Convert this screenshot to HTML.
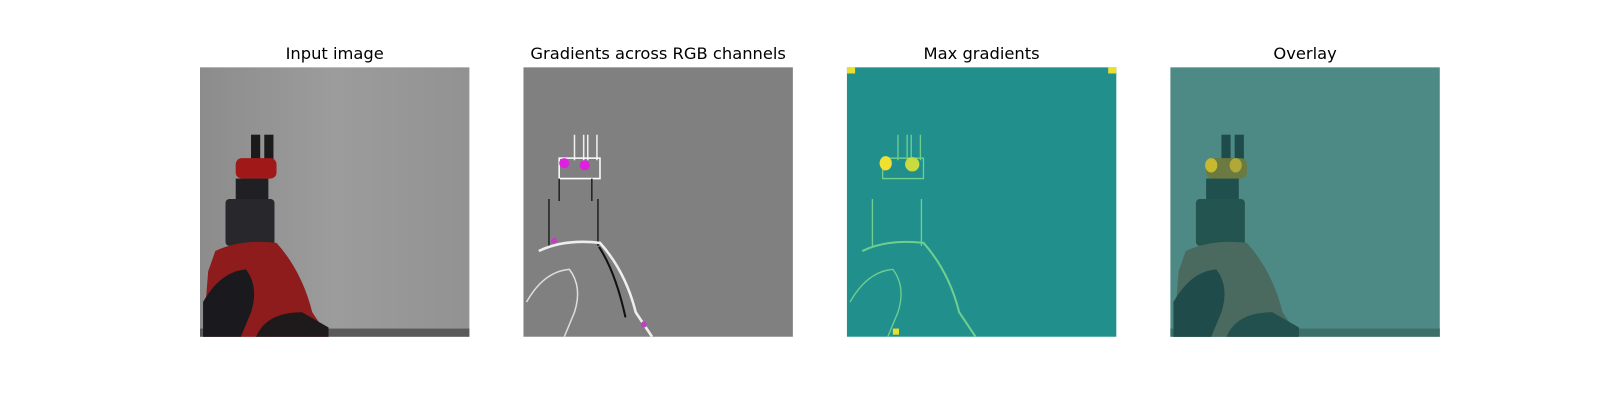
<!DOCTYPE html>
<html><head><meta charset="utf-8"><style>
body{margin:0;background:#fff;width:1600px;height:400px;overflow:hidden}
svg{display:block}
text{font-family:"DejaVu Sans","Liberation Sans",sans-serif;font-size:16px;fill:#000}
</style></head><body>
<svg width="1600" height="400">
<defs>
<linearGradient id="g1" x1="0" x2="1" y1="0" y2="0"><stop offset="0" stop-color="#8c8c8c"/><stop offset="0.5" stop-color="#9c9c9c"/><stop offset="1" stop-color="#929292"/></linearGradient>
</defs>
<script>
const panelX=[196,513,830,1147];
const titles=["Input image","Gradients across RGB channels","Max gradients","Overlay"];
</script>
<g transform="scale(1.0204)">
<!-- panel 1 -->
<g transform="translate(196,66)">
<rect width="264" height="264" fill="url(#g1)"/>
<rect y="256" width="264" height="8" fill="#5a5a5a"/>
<rect x="50" y="66" width="9" height="25" fill="#1b1b1b"/><rect x="63" y="66" width="9" height="25" fill="#1b1b1b"/>
<rect x="35" y="89" width="40" height="20" rx="6" fill="#a01818"/>
<rect x="35" y="109" width="32" height="22" fill="#202024"/>
<rect x="25" y="129" width="48" height="46" rx="4" fill="#28282c"/>
<path d="M15 180 Q40 168 75 172 Q100 200 110 240 L126 264 L3 264 L8 200 Z" fill="#8e1c1c"/>
<path d="M3 264 L3 230 Q20 200 45 198 Q58 215 50 240 L40 264 Z" fill="#1a1a1e"/>
<path d="M55 264 Q65 240 100 240 L126 255 L126 264 Z" fill="#1e1a1c"/>
</g>
<!-- panel 2 -->
<g transform="translate(513,66)">
<rect width="264" height="264" fill="#808080"/>
<g fill="none" stroke-width="1.5">
<path d="M50 66 L50 91 M59 66 L59 91 M63 66 L63 91 M72 66 L72 91" stroke="#eee"/>
<path d="M35 89 L75 89 L75 109 L35 109 Z" stroke="#fff"/>
<path d="M35 109 L35 131 M67 109 L67 131 M25 129 L25 175 M73 129 L73 175" stroke="#222"/>
<path d="M15 180 Q40 168 75 172 Q100 200 110 240 L126 264" stroke="#eee" stroke-width="2.5"/>
<path d="M3 230 Q20 200 45 198 Q58 215 50 240 L40 264" stroke="#ddd"/>
<path d="M74 176 Q90 200 100 245" stroke="#111" stroke-width="2"/>
</g>
<circle cx="40" cy="94" r="5" fill="#e020e0"/><circle cx="60" cy="96" r="5" fill="#e020e0"/>
<circle cx="30" cy="170" r="3" fill="#c040c0"/><circle cx="118" cy="252" r="3" fill="#c040c0"/>
</g>
<!-- panel 3 -->
<g transform="translate(830,66)">
<rect width="264" height="264" fill="#21908d"/>
<g fill="none" stroke="#6fcf8f" stroke-width="1.3">
<path d="M50 66 L50 91 M59 66 L59 91 M63 66 L63 91 M72 66 L72 91"/>
<path d="M35 89 L75 89 L75 109 L35 109 Z"/>
<path d="M25 129 L25 175 M73 129 L73 175"/>
<path d="M15 180 Q40 168 75 172 Q100 200 110 240 L126 264" stroke-width="2"/>
<path d="M3 230 Q20 200 45 198 Q58 215 50 240 L40 264"/>
</g>
<ellipse cx="38" cy="94" rx="6" ry="7" fill="#f0e030"/><ellipse cx="64" cy="95" rx="7" ry="7" fill="#c8dc40"/>
<rect x="0" y="0" width="8" height="6" fill="#e8e030"/><rect x="256" y="0" width="8" height="6" fill="#e8e030"/>
<rect x="45" y="256" width="6" height="6" fill="#e8e030"/>
</g>
<!-- panel 4 -->
<g transform="translate(1147,66)">
<rect width="264" height="264" fill="#4d8a86"/>
<rect y="256" width="264" height="8" fill="#3c6e6c"/>
<rect x="50" y="66" width="9" height="25" fill="#1f4c4a"/><rect x="63" y="66" width="9" height="25" fill="#1f4c4a"/>
<rect x="35" y="89" width="40" height="20" rx="6" fill="#6a7a40"/>
<ellipse cx="40" cy="96" rx="6" ry="7" fill="#c8b830"/><ellipse cx="64" cy="96" rx="6" ry="7" fill="#b0a838"/>
<rect x="35" y="109" width="32" height="22" fill="#20504e"/>
<rect x="25" y="129" width="48" height="46" rx="4" fill="#245450"/>
<path d="M15 180 Q40 168 75 172 Q100 200 110 240 L126 264 L3 264 L8 200 Z" fill="#4a6a60"/>
<path d="M3 264 L3 230 Q20 200 45 198 Q58 215 50 240 L40 264 Z" fill="#1f4b4a"/>
<path d="M55 264 Q65 240 100 240 L126 255 L126 264 Z" fill="#21504e"/>
</g>
<text x="328" y="58" text-anchor="middle">Input image</text>
<text x="645" y="58" text-anchor="middle">Gradients across RGB channels</text>
<text x="962" y="58" text-anchor="middle">Max gradients</text>
<text x="1279" y="58" text-anchor="middle">Overlay</text>
</g>
</svg>
</body></html>
